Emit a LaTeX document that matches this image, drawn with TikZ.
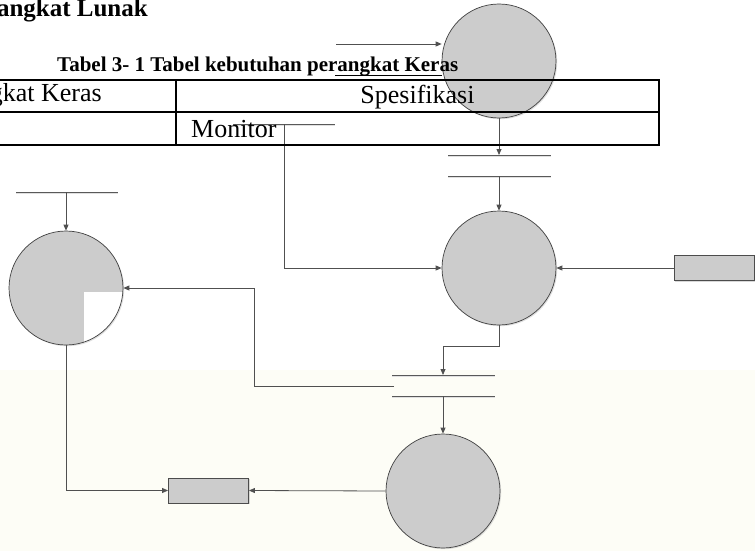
\documentclass[tikz,border=0pt]{standalone}
\usepackage{fontspec}
\setmainfont{Liberation Serif}
\usetikzlibrary{arrows.meta,shadows}
\definecolor{pale}{RGB}{253,253,246}
\definecolor{procgray}{RGB}{204,204,204}
\definecolor{linegray}{RGB}{80,80,80}

\begin{document}
\begin{tikzpicture}[x=1pt,y=-1pt,
    proc/.style={circle,draw=black!75,line width=0.7pt,fill=procgray,minimum size=114pt,inner sep=0pt,
      drop shadow={shadow xshift=1.2pt,shadow yshift=-1.2pt,fill=black!25}},
    ent/.style={rectangle,draw=black!70,line width=0.9pt,fill=procgray,minimum width=80pt,minimum height=25pt,inner sep=0pt,
      drop shadow={shadow xshift=1.2pt,shadow yshift=-1.2pt,fill=black!30}},
    flow/.style={draw=linegray,line width=0.8pt,-{Triangle[length=6pt,width=5pt]}},
    store/.style={draw=black!65,line width=0.9pt,preaction={draw=black!12,line width=0.9pt,transform canvas={yshift=-1.3pt}}},
    tab/.style={line width=2.2pt},
    cell/.style={font=\fontsize{26}{30}\selectfont,inner sep=0pt}]
  \useasboundingbox (0,0) rectangle (755,551);
  \fill[white] (0,0) rectangle (755,370);
  \fill[pale] (0,370) rectangle (755,551);

  \coordinate (s1a) at (448,155); \coordinate (s1b) at (551,155);
  \coordinate (s1c) at (448,176); \coordinate (s1d) at (551,176);
  \draw[store] (s1a) -- (s1b); \draw[store] (s1c) -- (s1d);
  \coordinate (s2a) at (392,375); \coordinate (s2b) at (495,375);
  \coordinate (s2c) at (392,396); \coordinate (s2d) at (495,396);
  \draw[store] (s2a) -- (s2b); \draw[store] (s2c) -- (s2d);
  \coordinate (l1) at (16,192); \coordinate (l2) at (118,192);
  \draw[store] (l1) -- (l2);
  \coordinate (m1) at (233,124); \coordinate (m2) at (335,124);
  \draw[store] (m1) -- (m2);

  \node[proc](p1)at(499,61){};
  \node[proc](p2)at(499,268){};
  \node[proc,path picture={\fill[white]([xshift=18pt,yshift=-4pt]path picture bounding box.center) rectangle (path picture bounding box.south east);}](p3)at(66,288){};
  \node[proc](p4)at(443,491){};
  \node[ent](e1)at(714,268){};
  \node[ent](e2)at(208.5,490.5){};

  \coordinate (f0) at (336,44);
  \draw[flow] (f0) -- (f0 -| p1.west);
  \coordinate (u0) at (335,75);
  \draw[draw=black,line width=0.9pt] (u0) -- (u0 -| p1.west);
  \draw[flow] (p1.south) -- (p1.south |- s1a);
  \draw[flow] (p1.south |- s1c) -- (p2.north);
  \coordinate (m3) at (284,124);
  \draw[flow] (m3) |- (p2.west);
  \draw[flow] (e1.west) -- (p2.east);
  \coordinate (s2t) at (443,375);
  \draw[flow] (p2.south) -- ++(0,21) -| (s2t);
  \coordinate (s2m) at (394,386);
  \draw[flow] (s2m) -- (254,386) |- (p3.east);
  \draw[flow] (p3.north |- l1) -- (p3.north);
  \draw[flow] (p3.south) |- (e2.west);
  \draw[flow] (p4.west) -- (e2.east);
  \draw[flow] (p4.north |- s2c) -- (p4.north);

  \draw[tab] (-5,80) -- (659,80) -- (659,145) -- (-5,145);
  \draw[tab] (-5,112) -- (659,112);
  \draw[tab] (176,80) -- (176,145);

  \node[font=\bfseries\fontsize{25}{30}\selectfont,anchor=base east,inner sep=0pt](head)at(148,17){angkat Lunak};
  \node[font=\bfseries\fontsize{21}{25}\selectfont,anchor=base west,inner sep=0pt](cap)at(57,71){Tabel 3- 1 Tabel kebutuhan perangkat Keras};
  \node[cell,anchor=base east](hw)at(102,102){gkat Keras};
  \node[cell,anchor=base](spec)at(417.5,103){Spesifikasi};
  \node[cell,anchor=base west](mon)at(191,137){Monitor};
\end{tikzpicture}
\end{document}
